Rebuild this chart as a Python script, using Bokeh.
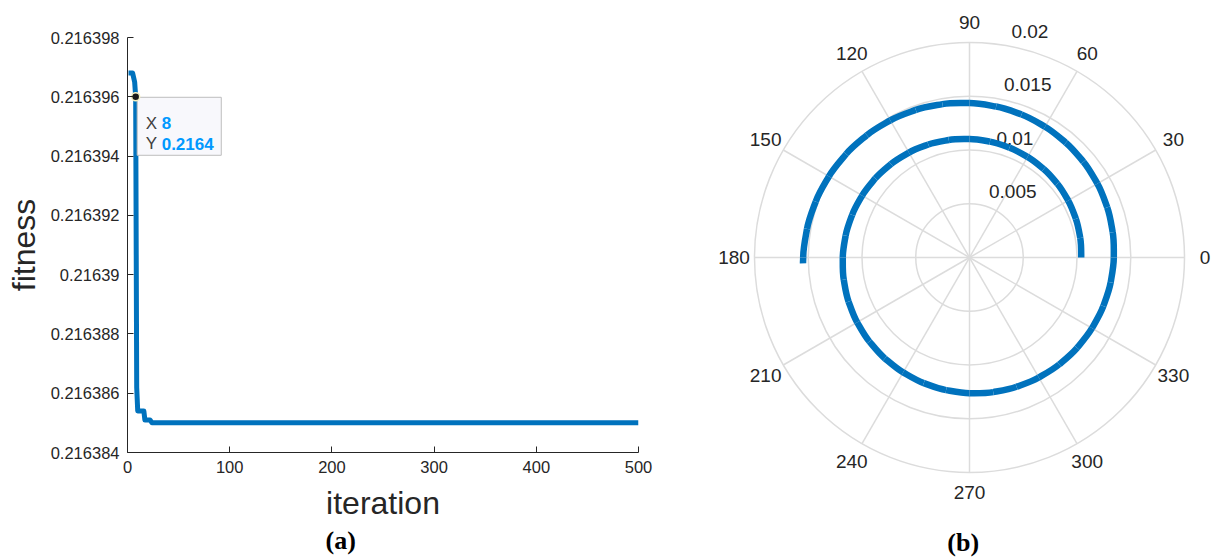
import numpy as np
from bokeh.plotting import figure
from bokeh.layouts import row
from bokeh.models import FixedTicker, CustomJSTickFormatter, ColumnDataSource, Label, Title
from bokeh.embed import file_html
from bokeh.resources import INLINE
from bokeh.core.properties import value

# ---------------- data: panel (a) ----------------
iterations = [1, 5, 7, 8, 9, 10, 16, 17, 22, 24, 500]
fitness = [0.2163968, 0.2163968, 0.2163965, 0.2163960, 0.2163862, 0.2163854,
           0.2163854, 0.2163851, 0.2163851, 0.2163850, 0.2163850]
x_ticks = [0, 100, 200, 300, 400, 500]
y_ticks = [0.216384, 0.216386, 0.216388, 0.21639, 0.216392, 0.216394, 0.216396, 0.216398]
tip_x = 8
tip_y = 0.216396
tip_names = ["X", "Y"]
tip_values = ["8", "0.2164"]

# ---------------- data: panel (b) ----------------
spiral_theta_deg = [0, 10, 20, 30, 40, 50, 60, 70, 80, 90,
                    100, 110, 120, 130, 140, 150, 160, 170, 180,
                    190, 200, 210, 220, 230, 240, 250, 260, 270,
                    280, 290, 300, 310, 320, 330, 340, 350, 360,
                    370, 380, 390, 400, 410, 420, 430, 440, 450,
                    460, 470, 480, 490, 500, 510, 520, 530, 540, 542]
spiral_r = [0.010391, 0.010460, 0.010529, 0.010599, 0.010668, 0.010737, 0.010806, 0.010876, 0.010945, 0.011014,
            0.011100, 0.011186, 0.011271, 0.011357, 0.011443, 0.011529, 0.011614, 0.011700, 0.011786,
            0.011879, 0.011972, 0.012065, 0.012158, 0.012251, 0.012344, 0.012437, 0.012530, 0.012623,
            0.012712, 0.012801, 0.012890, 0.012979, 0.013068, 0.013156, 0.013245, 0.013334, 0.013423,
            0.013527, 0.013632, 0.013736, 0.013841, 0.013945, 0.014049, 0.014154, 0.014258, 0.014363,
            0.014486, 0.014609, 0.014732, 0.014855, 0.014978, 0.015101, 0.015224, 0.015347, 0.015470, 0.015495]
r_ticks = [0.005, 0.01, 0.015, 0.02]
r_tick_labels = ["0.005", "0.01", "0.015", "0.02"]
theta_ticks = [0, 30, 60, 90, 120, 150, 180, 210, 240, 270, 300, 330]
theta_tick_labels = ["0", "30", "60", "90", "120", "150", "180", "210", "240", "270", "300", "330"]

# ---------------- style ----------------
BLUE = "#0072BD"
AX = "#262626"
GRID = "#DCDCDC"
FONT = "Liberation Sans"
SERIF = "Liberation Serif"
CAP_SIZE = "26px"
H = 560

# ---------------- panel (a) ----------------
W1 = 663
p1 = figure(width=W1, height=H, x_range=(0, 500), y_range=(y_ticks[0], y_ticks[-1]),
            output_backend="svg", toolbar_location=None,
            min_border_left=127, min_border_right=25, min_border_top=37, min_border_bottom=108)
p1.frame_align = False
p1.outline_line_color = None
p1.grid.visible = False
for ax in (p1.xaxis[0], p1.yaxis[0]):
    ax.axis_line_color = AX
    ax.axis_line_width = 1
    ax.major_tick_line_color = AX
    ax.major_tick_in = 6
    ax.major_tick_out = 0
    ax.minor_tick_line_color = None
    ax.major_label_text_font = FONT
    ax.major_label_text_font_size = "16.5px"
    ax.major_label_text_color = AX
    ax.axis_label_text_font = FONT
    ax.axis_label_text_font_style = "normal"
    ax.axis_label_text_font_size = "32px"
    ax.axis_label_text_color = AX
p1.xaxis.ticker = FixedTicker(ticks=x_ticks)
p1.yaxis.ticker = FixedTicker(ticks=y_ticks)
p1.yaxis.formatter = CustomJSTickFormatter(code="return String(parseFloat(tick.toFixed(6)));")
p1.xaxis.axis_label = "iteration"
p1.yaxis.axis_label = "fitness"
p1.yaxis.major_label_standoff = 8
p1.yaxis.axis_label_standoff = 6
p1.xaxis.major_label_standoff = 8
p1.xaxis.axis_label_standoff = 9

p1.line(iterations, fitness, line_width=5, line_color=BLUE, line_join="round")

# data tip (anchored at the tip point, sized in pixels)
dx = 500 / 510.4
dy = (y_ticks[-1] - y_ticks[0]) / 415.0
p1.quad(left=[tip_x + 1.5 * dx], right=[tip_x + 85.5 * dx],
        top=[tip_y - 0.5 * dy], bottom=[tip_y - 58.5 * dy],
        fill_color="#F8F8FC", line_color="#BDBDBD", line_width=1)
p1.scatter([tip_x], [tip_y], size=8, fill_color="#1A1A1A", line_color="#F5F0C0", line_width=1.5)
tip_src = ColumnDataSource(dict(x=[tip_x, tip_x], y=[tip_y, tip_y], name=tip_names,
                                val=tip_values, yo=[26.5, 47]))
p1.text(x="x", y="y", text="name", source=tip_src, x_offset=10, y_offset="yo",
        text_font=value(FONT), text_font_size="17px", text_color="#404040",
        text_align="left", text_baseline="alphabetic")
p1.text(x="x", y="y", text="val", source=tip_src, x_offset=26, y_offset="yo",
        text_font=value(FONT), text_font_size="17px", text_color="#0099FF",
        text_font_style="bold", text_align="left", text_baseline="alphabetic")

cap_a = Title(text="(a)", align="left", offset=198, standoff=0,
              text_font=SERIF, text_font_style="bold", text_font_size=CAP_SIZE,
              text_color="black")
p1.add_layout(cap_a, "below")

# ---------------- panel (b) ----------------
W2 = 1211 - W1
s = 10750.0
cx, cy = 306, 257
p2 = figure(width=W2, height=H, x_range=(-cx / s, (W2 - cx) / s),
            y_range=(-(H - cy) / s, cy / s),
            output_backend="svg", toolbar_location=None, min_border=0)
p2.frame_align = False
p2.axis.visible = False
p2.grid.visible = False
p2.outline_line_color = None

r_max = r_ticks[-1]
th = np.radians(theta_ticks)
p2.segment(x0=np.zeros(len(th)), y0=np.zeros(len(th)), x1=r_max * np.cos(th), y1=r_max * np.sin(th),
           line_color=GRID, line_width=1.5)
p2.circle(x=np.zeros(len(r_ticks)), y=np.zeros(len(r_ticks)), radius=r_ticks,
          fill_color=None, line_color=GRID, line_width=1.5)

r_lab = 0.0219
p2.text(x=r_lab * np.cos(th), y=r_lab * np.sin(th), text=theta_tick_labels,
        text_font=value(FONT), text_font_size="19px", text_color=AX,
        text_align="center", text_baseline="middle")

r_axis_angle = np.radians(82)
rt = np.array(r_ticks)
p2.text(x=rt * np.cos(r_axis_angle), y=rt * np.sin(r_axis_angle), text=r_tick_labels,
        x_offset=12, y_offset=-13,
        text_font=value(FONT), text_font_size="19px", text_color=AX,
        text_align="left", text_baseline="middle")

# spiral: smooth cubic Bezier pieces through the read-off points
sp_th = np.radians(spiral_theta_deg)
sp_r = np.array(spiral_r)
px = sp_r * np.cos(sp_th)
py = sp_r * np.sin(sp_th)
dth = np.diff(sp_th)
k = 4.0 / 3.0 * np.tan(dth / 4.0)
r0, r1 = sp_r[:-1], sp_r[1:]
t0, t1 = sp_th[:-1], sp_th[1:]
p2.bezier(x0=px[:-1], y0=py[:-1], x1=px[1:], y1=py[1:],
          cx0=px[:-1] - k * r0 * np.sin(t0), cy0=py[:-1] + k * r0 * np.cos(t0),
          cx1=px[1:] + k * r1 * np.sin(t1), cy1=py[1:] - k * r1 * np.cos(t1),
          line_width=6.5, line_color=BLUE, line_cap="butt")

p2.add_layout(Label(x=-6.3 / s, y=-(542 - 257) / s, text="(b)", text_font=SERIF,
                    text_font_style="bold", text_font_size=CAP_SIZE, text_color="black",
                    text_align="center", text_baseline="middle"))

layout = row(p1, p2)
open("out.html", "w").write(file_html(layout, INLINE))
